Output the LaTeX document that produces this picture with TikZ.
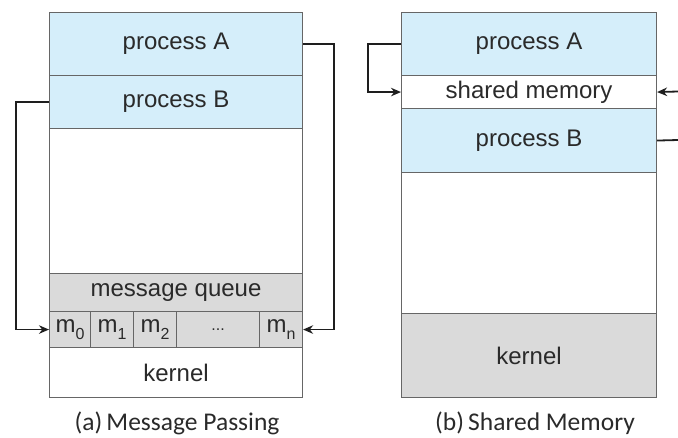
\documentclass[tikz,border=0pt]{standalone}
\usepackage{fontspec}
\setmainfont{Liberation Sans}
\newfontfamily\capfont{Carlito}
\usetikzlibrary{arrows.meta}
\definecolor{procblue}{HTML}{D5EEFA}
\definecolor{kgray}{HTML}{DADADA}
\definecolor{bordergray}{HTML}{666666}
\definecolor{txt}{HTML}{2A2A2A}
\definecolor{linec}{HTML}{1E1E1E}
\newcommand{\mysub}[1]{\raisebox{-0.28em}{\fontsize{16}{16}\selectfont #1}}
\tikzset{
  box/.style={draw=bordergray, line width=1.1pt, anchor=north west, inner sep=0pt,
    text=txt, font=\fontsize{24}{28}\selectfont},
  procbox/.style={box, fill=procblue},
  whitebox/.style={box, fill=white},
  greybox/.style={box, fill=kgray},
  captext/.style={font=\capfont\fontsize{25.5}{30}\selectfont, text=txt, inner sep=0pt},
  arr/.style={draw=linec, line width=1.8pt, -{Stealth[length=10pt,width=8.5pt]}},
  ln/.style={draw=linec, line width=1.8pt}
}
\begin{document}
\begin{tikzpicture}[x=1pt,y=-1pt]
\useasboundingbox (0,0) rectangle (678,437);
% (a) message passing
\node[procbox, minimum width=253pt, minimum height=63pt] (pA1) at (49,12) {process A};
\node[procbox, minimum width=253pt, minimum height=53pt] (pB1) at (49,75) {process B};
\node[whitebox, minimum width=253pt, minimum height=145pt] (fr1) at (49,128) {};
\node[greybox, minimum width=253pt, minimum height=38pt] (mq) at (49,273) {message queue};
\node[greybox, minimum width=41pt, minimum height=36pt] (m0) at (49,311) {m\mysub{0}};
\node[greybox, minimum width=43pt, minimum height=36pt] (m1) at (90,311) {m\mysub{1}};
\node[greybox, minimum width=43pt, minimum height=36pt] (m2) at (133,311) {m\mysub{2}};
\node[greybox, minimum width=83pt, minimum height=36pt, font=\fontsize{16}{18}\selectfont] (md) at (176,311) {...};
\node[greybox, minimum width=43pt, minimum height=36pt] (mn) at (259,311) {m\mysub{n}};
\node[whitebox, minimum width=253pt, minimum height=50pt] (k1) at (49,347) {kernel};
\node[captext] (ca) at (177,423) {(a)\,Message Passing};
% (b) shared memory
\node[procbox, minimum width=255pt, minimum height=63pt] (pA2) at (401,12) {process A};
\node[whitebox, minimum width=255pt, minimum height=33pt] (sm) at (401,75) {shared memory};
\node[procbox, minimum width=255pt, minimum height=64pt] (pB2) at (401,108) {process B};
\node[whitebox, minimum width=255pt, minimum height=141pt] (fr2) at (401,172) {};
\node[greybox, minimum width=255pt, minimum height=84pt] (k2) at (401,313) {kernel};
\node[captext] (cb) at (535,423) {(b)\,Shared Memory};
% connectors
\draw[arr] (pB1.west) -- ++(-33,0) |- (m0.west);
\draw[arr] (pA1.east) -- ++(31,0) |- (mn.east);
\draw[arr] (pA2.west) -- ++(-33,0) |- (sm.west);
\coordinate (e1) at (678,91.5);
\coordinate (e2) at (678,140);
\draw[arr] (e1) -- (sm.east);
\draw[ln] (pB2.east) -- (e2);
\end{tikzpicture}
\end{document}
